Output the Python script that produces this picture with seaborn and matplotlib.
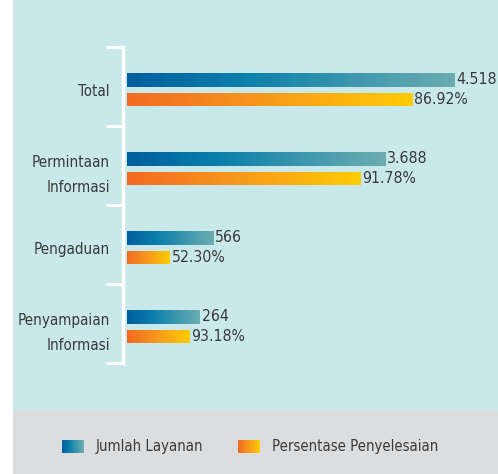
import os
import matplotlib
matplotlib.use("Agg")
import numpy as np
import pandas as pd
import matplotlib.pyplot as plt
import seaborn as sns
from matplotlib import font_manager
from matplotlib.colors import LinearSegmentedColormap
from matplotlib.patches import Rectangle
from matplotlib.legend_handler import HandlerBase

# === Data ===
kategori = ["Total", "Permintaan\nInformasi", "Pengaduan", "Penyampaian\nInformasi"]
seri = ["Jumlah Layanan", "Persentase Penyelesaian"]
jumlah = [4518, 3688, 566, 264]
persen = [86.92, 91.78, 52.30, 93.18]
# bar lengths as drawn in the original infographic (Total Jumlah Layanan = 100)
panjang_jumlah = [100, 78.9, 26.3, 22.3]
panjang_persen = [87.2, 71.3, 13.1, 19.0]

label_jumlah = [f"{v:,}".replace(",", ".") for v in jumlah]
label_persen = [f"{p:.2f}%" for p in persen]

df = pd.DataFrame(
    {
        "Kategori": kategori * 2,
        "Seri": [seri[0]] * 4 + [seri[1]] * 4,
        "Panjang": panjang_jumlah + panjang_persen,
        "Label": label_jumlah + label_persen,
    }
)

# === Style ===
TEXT = "#3a3a3a"
CYAN_BG = "#c9e8ea"
GREY_BG = "#dcdddf"
blue_cmap = LinearSegmentedColormap.from_list(
    "biru", [(0, "#005e9e"), (0.35, "#0a7fab"), (1, "#6cadb1")]
)
orange_cmap = LinearSegmentedColormap.from_list(
    "oranye", [(0, "#f26b22"), (0.45, "#f7961d"), (1, "#ffcc05")]
)
cmaps = {seri[0]: blue_cmap, seri[1]: orange_cmap}
base_colors = ["#0a7fab", "#f7961d"]


# pick a condensed face if one is installed (original uses a narrow font)
def find_narrow_font():
    found = []
    for f in font_manager.fontManager.ttflist:
        base = os.path.basename(f.fname).lower()
        if ("narrow" in base or "condensed" in base) and f.style == "normal":
            if any(b in base for b in ["bold", "light", "thin", "black", "medium", "semi", "extra"]):
                continue
            found.append(f.fname)
    prefer = ["liberationsansnarrow", "dejavusanscondensed", "robotocondensed", "notosans", "opensans"]
    for p in prefer:
        for fn in found:
            if p in os.path.basename(fn).lower().replace("-", "").replace("_", ""):
                return fn
    return found[0] if found else None


narrow = find_narrow_font()
print("narrow font:", narrow)
if narrow:
    fp = font_manager.FontProperties(fname=narrow)
    scale = 0.81
else:
    fp = font_manager.FontProperties(family="DejaVu Sans")
    scale = 0.66

W, H = 498, 474
fig = plt.figure(figsize=(W / 100, H / 100), dpi=100)
fig.patch.set_facecolor("white")
fig.patches.append(
    Rectangle((13 / W, 64 / H), (W - 13) / W, 410 / H, transform=fig.transFigure,
              facecolor=CYAN_BG, edgecolor="none", zorder=-5)
)
fig.patches.append(
    Rectangle((13 / W, 0), (W - 13) / W, 64 / H, transform=fig.transFigure,
              facecolor=GREY_BG, edgecolor="none", zorder=-5)
)

ax = fig.add_axes([123 / W, 1 - 363 / H, (493 - 123) / W, (363 - 47) / H])
ax.set_facecolor("none")

sns.barplot(
    data=df, y="Kategori", x="Panjang", hue="Seri", orient="h",
    palette=base_colors, width=0.5, gap=0.3, saturation=1,
    legend=False, ax=ax, errorbar=None,
)

# gradient fill + value labels
label_map = {(k, s): l for k, s, l in zip(df["Kategori"], df["Seri"], df["Label"])}
grad = np.linspace(0, 1, 256).reshape(1, -1)
for patch in list(ax.patches):
    w = patch.get_width()
    if w <= 0:
        continue
    x0, y0, h = patch.get_x(), patch.get_y(), patch.get_height()
    fc = patch.get_facecolor()
    s = seri[0] if fc[2] > fc[0] else seri[1]
    k = kategori[int(round(y0 + h / 2))]
    im = ax.imshow(grad, extent=[x0, x0 + w, y0 + h, y0], aspect="auto",
                   cmap=cmaps[s], zorder=patch.get_zorder() + 0.1)
    im.set_clip_path(patch)
    ax.annotate(label_map[(k, s)], xy=(x0 + w, y0 + h / 2), xytext=(1.5, 0),
                textcoords="offset points", ha="left", va="center",
                fontproperties=fp, fontsize=14 * scale, color=TEXT,
                annotation_clip=False)

shift = 0.04
ax.set_xlim(-1.22, 111.9)
ax.set_ylim(3.5 - shift, -0.5 - shift)
ax.set_xlabel("")
ax.set_ylabel("")
ax.set_xticks([])
ax.set_yticks(range(len(kategori)))
ax.set_yticklabels(kategori, linespacing=1.85)
ax.tick_params(axis="y", which="major", length=0, pad=9.5, labelcolor=TEXT)
for lbl in ax.get_yticklabels():
    lbl.set_fontproperties(fp)
    lbl.set_fontsize(13.5 * scale)
ax.set_yticks([b - shift for b in [-0.5, 0.5, 1.5, 2.5, 3.5]], minor=True)
ax.tick_params(axis="y", which="minor", length=12, width=2.2, color="white")
for side in ["top", "right", "bottom"]:
    ax.spines[side].set_visible(False)
ax.spines["left"].set_color("white")
ax.spines["left"].set_linewidth(2.5)


# === Legend with gradient swatches ===
class GradientHandler(HandlerBase):
    def __init__(self, cmap):
        super().__init__()
        self.cmap = cmap

    def create_artists(self, legend, orig_handle, xdescent, ydescent,
                       width, height, fontsize, trans):
        n = 40
        arts = []
        for i in range(n):
            arts.append(
                Rectangle((-xdescent + width * i / n, -ydescent), width / n * 1.1, height,
                          facecolor=self.cmap(i / (n - 1)), edgecolor="none",
                          transform=trans)
            )
        return arts


legend_size = 13.2 * scale
fs_px = legend_size * 100 / 72
legend_fp = fp.copy()
legend_fp.set_size(legend_size)
h1 = Rectangle((0, 0), 1, 1)
h2 = Rectangle((0, 0), 1, 1)
fig.legend(
    handles=[h1, h2], labels=seri,
    handler_map={h1: GradientHandler(blue_cmap), h2: GradientHandler(orange_cmap)},
    loc="center", bbox_to_anchor=(250 / W, 27 / H), ncol=2, frameon=False,
    prop=legend_fp, labelcolor=TEXT, handlelength=22 / fs_px, handleheight=15 / fs_px,
    handletextpad=12 / fs_px, columnspacing=35 / fs_px,
)

fig.savefig("out.png", dpi=100)
